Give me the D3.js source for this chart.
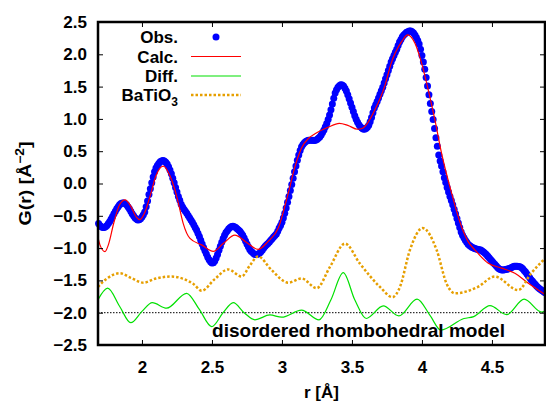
<!DOCTYPE html>
<html>
<head>
<meta charset="utf-8">
<script src="https://cdn.jsdelivr.net/npm/d3@7"></script>
<style>
  html, body { margin: 0; padding: 0; background: #fff; overflow: hidden; }
  svg { display: block; }
  text { font-family: "Liberation Sans", Arial, sans-serif; font-weight: bold; fill: #000; }
</style>
</head>
<body>
<svg id="chart"></svg>
<script>
// tick labels
const xTicks = [2, 2.5, 3, 3.5, 4, 4.5];
const yTicks = [-2.5, -2, -1.5, -1, -0.5, 0, 0.5, 1, 1.5, 2, 2.5];

// observed G(r), one value every 0.01 A starting at 1.69 A
const obsStart = 1.69, obsStep = 0.01;
const obsG = [
  -0.62, -0.65, -0.67, -0.68, -0.68, -0.67, -0.65, -0.62, -0.59, -0.55,
  -0.51, -0.47, -0.43, -0.39, -0.36, -0.33, -0.31, -0.30, -0.30, -0.31,
  -0.33, -0.36, -0.39, -0.43, -0.47, -0.50, -0.53, -0.55, -0.565, -0.56,
  -0.545, -0.52, -0.485, -0.44, -0.36, -0.27, -0.17, -0.08, 0.01, 0.10,
  0.18, 0.24, 0.28, 0.31, 0.335, 0.35, 0.355, 0.35, 0.33, 0.30,
  0.26, 0.21, 0.15, 0.08, 0.01, -0.06, -0.13, -0.20, -0.26, -0.32,
  -0.365, -0.40, -0.43, -0.46, -0.495, -0.53, -0.565, -0.60, -0.64, -0.68,
  -0.72, -0.77, -0.82, -0.88, -0.935, -0.99, -1.04, -1.09, -1.14, -1.18,
  -1.21, -1.23, -1.225, -1.20, -1.155, -1.10, -1.035, -0.97, -0.91, -0.85,
  -0.80, -0.76, -0.73, -0.70, -0.68, -0.665, -0.66, -0.67, -0.68, -0.70,
  -0.72, -0.74, -0.77, -0.80, -0.845, -0.89, -0.935, -0.98, -1.02, -1.05,
  -1.07, -1.09, -1.10, -1.10, -1.09, -1.08, -1.055, -1.03, -1.00, -0.97,
  -0.95, -0.93, -0.905, -0.88, -0.855, -0.83, -0.805, -0.78, -0.74, -0.69,
  -0.65, -0.60, -0.535, -0.46, -0.38, -0.29, -0.20, -0.11, -0.015, 0.08,
  0.18, 0.27, 0.36, 0.44, 0.51, 0.57, 0.605, 0.63, 0.65, 0.66,
  0.67, 0.67, 0.67, 0.67, 0.665, 0.67, 0.68, 0.70, 0.72, 0.75,
  0.79, 0.83, 0.88, 0.93, 0.99, 1.06, 1.14, 1.23, 1.32, 1.40,
  1.45, 1.49, 1.515, 1.53, 1.525, 1.51, 1.475, 1.43, 1.375, 1.31,
  1.245, 1.18, 1.115, 1.05, 0.995, 0.95, 0.91, 0.88, 0.86, 0.845,
  0.84, 0.85, 0.87, 0.90, 0.955, 1.02, 1.095, 1.17, 1.22, 1.27,
  1.325, 1.38, 1.435, 1.49, 1.555, 1.62, 1.685, 1.75, 1.815, 1.88,
  1.93, 1.98, 2.03, 2.08, 2.135, 2.19, 2.23, 2.27, 2.30, 2.32,
  2.34, 2.35, 2.36, 2.36, 2.35, 2.33, 2.30, 2.26, 2.215, 2.16,
  2.08, 1.98, 1.88, 1.77, 1.64, 1.51, 1.375, 1.24, 1.115, 0.99,
  0.85, 0.71, 0.575, 0.44, 0.35, 0.27, 0.18, 0.09, 0.015, -0.06,
  -0.13, -0.20, -0.265, -0.33, -0.40, -0.47, -0.54, -0.61, -0.68, -0.75,
  -0.80, -0.84, -0.88, -0.91, -0.94, -0.96, -0.975, -0.99, -1.00, -1.01,
  -1.015, -1.02, -1.025, -1.03, -1.045, -1.06, -1.08, -1.10, -1.125, -1.15,
  -1.175, -1.20, -1.225, -1.25, -1.275, -1.30, -1.32, -1.33, -1.34, -1.34,
  -1.335, -1.33, -1.325, -1.32, -1.31, -1.30, -1.29, -1.28, -1.28, -1.28,
  -1.285, -1.29, -1.30, -1.32, -1.345, -1.37, -1.40, -1.43, -1.46, -1.49,
  -1.515, -1.54, -1.565, -1.59, -1.61, -1.63, -1.645, -1.66, -1.675, -1.69
];

// calculated curve [r, G]
const calc = [
  [1.686, -0.84], [1.70, -0.95], [1.736, -1.055], [1.76, -0.95], [1.80, -0.60],
  [1.84, -0.33], [1.879, -0.255], [1.92, -0.35], [1.96, -0.52], [1.986, -0.56],
  [2.02, -0.45], [2.06, -0.18], [2.10, 0.12], [2.152, 0.27], [2.20, 0.12],
  [2.236, -0.10], [2.265, -0.35], [2.295, -0.62], [2.343, -0.85], [2.426, -0.95],
  [2.51, -1.05], [2.58, -0.93], [2.664, -0.80], [2.74, -0.90], [2.83, -1.02],
  [2.90, -0.90], [2.974, -0.69], [3.045, -0.15], [3.093, 0.26], [3.14, 0.55],
  [3.19, 0.70], [3.236, 0.77], [3.33, 0.87], [3.41, 0.93], [3.47, 0.90],
  [3.54, 0.84], [3.58, 0.86], [3.61, 0.93], [3.664, 1.14], [3.736, 1.52],
  [3.78, 1.86], [3.855, 2.195], [3.898, 2.30], [3.95, 2.17], [3.998, 1.86],
  [4.045, 1.45], [4.093, 0.98], [4.14, 0.47], [4.212, -0.15], [4.283, -0.67],
  [4.33, -0.90], [4.379, -1.03], [4.474, -1.235], [4.569, -1.31], [4.664, -1.39],
  [4.76, -1.545], [4.88, -1.72]
];

// difference curve (offset by -2)
const diff = [
  [1.686, -1.80], [1.755, -1.62], [1.84, -1.90], [1.92, -2.155], [2.00, -1.98],
  [2.074, -1.845], [2.176, -1.93], [2.319, -1.70], [2.41, -1.95], [2.498, -2.215],
  [2.58, -2.00], [2.652, -1.845], [2.73, -2.00], [2.807, -2.11], [2.914, -2.035],
  [2.998, -2.07], [3.14, -1.96], [3.265, -2.11], [3.35, -1.80], [3.438, -1.38],
  [3.52, -1.80], [3.602, -2.09], [3.724, -1.895], [3.835, -2.05], [3.965, -1.79],
  [4.06, -2.05], [4.135, -2.27], [4.30, -2.09], [4.37, -2.06], [4.486, -1.89],
  [4.605, -2.03], [4.73, -1.79], [4.855, -1.99], [4.88, -1.97]
];

// BaTiO3 reference curve (offset)
const batio3 = [
  [1.686, -1.60], [1.75, -1.47], [1.843, -1.39], [1.92, -1.46], [2.01, -1.535],
  [2.10, -1.47], [2.212, -1.44], [2.30, -1.48], [2.37, -1.56], [2.426, -1.66],
  [2.52, -1.48], [2.616, -1.33], [2.712, -1.44], [2.77, -1.27], [2.83, -1.13],
  [2.926, -1.34], [3.045, -1.535], [3.14, -1.47], [3.248, -1.62], [3.343, -1.29],
  [3.45, -0.93], [3.557, -1.24], [3.70, -1.60], [3.79, -1.76], [3.843, -1.60],
  [3.914, -1.03], [4.005, -0.69], [4.105, -1.03], [4.176, -1.55], [4.236, -1.70],
  [4.40, -1.60], [4.52, -1.44], [4.688, -1.65], [4.78, -1.39], [4.88, -1.16]
];

const width = 546, height = 403;
const margin = {top: 22, right: 1, bottom: 58, left: 98};
const innerWidth = width - margin.left - margin.right;
const innerHeight = height - margin.top - margin.bottom;

const svg = d3.select('#chart').attr('width', width).attr('height', height);

const xScale = d3.scaleLinear().domain([1.686, 4.879]).range([0, innerWidth]);
const yScale = d3.scaleLinear().domain([-2.5, 2.5]).range([innerHeight, 0]);

const g = svg.append('g').attr('transform', `translate(${margin.left},${margin.top})`);

g.append('clipPath').attr('id', 'plotClip')
  .append('rect').attr('width', innerWidth).attr('height', innerHeight);

// zero line of the difference curve
g.append('line')
  .attr('x1', 0).attr('x2', innerWidth)
  .attr('y1', yScale(-2)).attr('y2', yScale(-2))
  .attr('stroke', '#000').attr('stroke-width', 1).attr('stroke-dasharray', '1.5,1.5');

// observed points
g.append('g')
  .selectAll('circle')
  .data(obsG)
  .join('circle')
  .attr('cx', (d, i) => xScale(obsStart + i * obsStep))
  .attr('cy', d => yScale(d))
  .attr('r', 3.5)
  .attr('fill', '#0000ff');

const line = d3.line()
  .x(d => xScale(d[0]))
  .y(d => yScale(d[1]))
  .curve(d3.curveMonotoneX);

const series = [
  {data: calc, color: '#ff0000', width: 1.2, dash: null},
  {data: diff, color: '#00e000', width: 1.2, dash: null},
  {data: batio3, color: '#e69f00', width: 2.5, dash: '2.5,2'}
];

series.forEach(s => {
  g.append('path')
    .datum(s.data)
    .attr('clip-path', 'url(#plotClip)')
    .attr('fill', 'none')
    .attr('stroke', s.color)
    .attr('stroke-width', s.width)
    .attr('stroke-dasharray', s.dash)
    .attr('d', line);
});

// axes with inward ticks, mirrored on top and right
const fmtY = d3.format('.1f');
g.append('g')
  .attr('transform', `translate(0,${innerHeight})`)
  .call(d3.axisBottom(xScale).tickValues(xTicks).tickFormat(d => String(d)).tickSize(-5).tickPadding(16));
g.append('g')
  .call(d3.axisLeft(yScale).tickValues(yTicks).tickFormat(fmtY).tickSize(-5).tickPadding(11));
g.append('g')
  .attr('class', 'mirror')
  .call(d3.axisTop(xScale).tickValues(xTicks).tickSize(-5));
g.append('g')
  .attr('class', 'mirror')
  .attr('transform', `translate(${innerWidth},0)`)
  .call(d3.axisRight(yScale).tickValues(yTicks).tickSize(-5));

g.selectAll('.mirror text').remove();
g.selectAll('.domain').remove();
g.selectAll('.tick line').attr('stroke', '#000').attr('stroke-width', 1);
g.selectAll('.tick text')
  .attr('font-family', '"Liberation Sans", Arial, sans-serif')
  .attr('font-weight', 'bold')
  .attr('font-size', 17)
  .attr('fill', '#000');

// frame
g.append('rect')
  .attr('width', innerWidth).attr('height', innerHeight)
  .attr('fill', 'none').attr('stroke', '#000').attr('stroke-width', 2.5);

// axis titles
svg.append('text')
  .attr('x', margin.left + innerWidth / 2).attr('y', 398)
  .attr('text-anchor', 'middle').attr('font-size', 17)
  .text('r [Å]');

const yl = svg.append('text')
  .attr('transform', `translate(31,${margin.top + innerHeight / 2}) rotate(-90)`)
  .attr('text-anchor', 'middle').attr('font-size', 17)
  .attr('textLength', 84).attr('lengthAdjust', 'spacingAndGlyphs');
yl.append('tspan').text('G(r) [Å');
yl.append('tspan').attr('dy', -7).attr('font-size', 12).text('−2');
yl.append('tspan').attr('dy', 7).text(']');

// annotation
svg.append('text')
  .attr('x', 212).attr('y', 336.5)
  .attr('font-size', 18.5)
  .attr('textLength', 293).attr('lengthAdjust', 'spacingAndGlyphs')
  .text('disordered rhombohedral model');

// legend
const legendRows = [
  {label: 'Obs.', y: 37, type: 'dot', color: '#0000ff'},
  {label: 'Calc.', y: 56.5, type: 'line', color: '#ff0000', width: 1.2, dash: null},
  {label: 'Diff.', y: 76, type: 'line', color: '#00e000', width: 1.2, dash: null},
  {label: 'BaTiO', sub: '3', y: 95, type: 'line', color: '#e69f00', width: 2.5, dash: '2.5,2'}
];
const legend = svg.append('g');
legendRows.forEach(row => {
  const t = legend.append('text')
    .attr('x', 178).attr('y', row.y + 6)
    .attr('text-anchor', 'end').attr('font-size', 17);
  t.append('tspan').text(row.label);
  if (row.sub) {
    t.append('tspan').attr('dy', 5).attr('font-size', 12).text(row.sub);
  }
  if (row.type === 'dot') {
    legend.append('circle').attr('cx', 216).attr('cy', row.y).attr('r', 3.5).attr('fill', row.color);
  } else {
    legend.append('line')
      .attr('x1', 191).attr('x2', 241).attr('y1', row.y).attr('y2', row.y)
      .attr('stroke', row.color).attr('stroke-width', row.width)
      .attr('stroke-dasharray', row.dash);
  }
});
</script>
</body>
</html>
